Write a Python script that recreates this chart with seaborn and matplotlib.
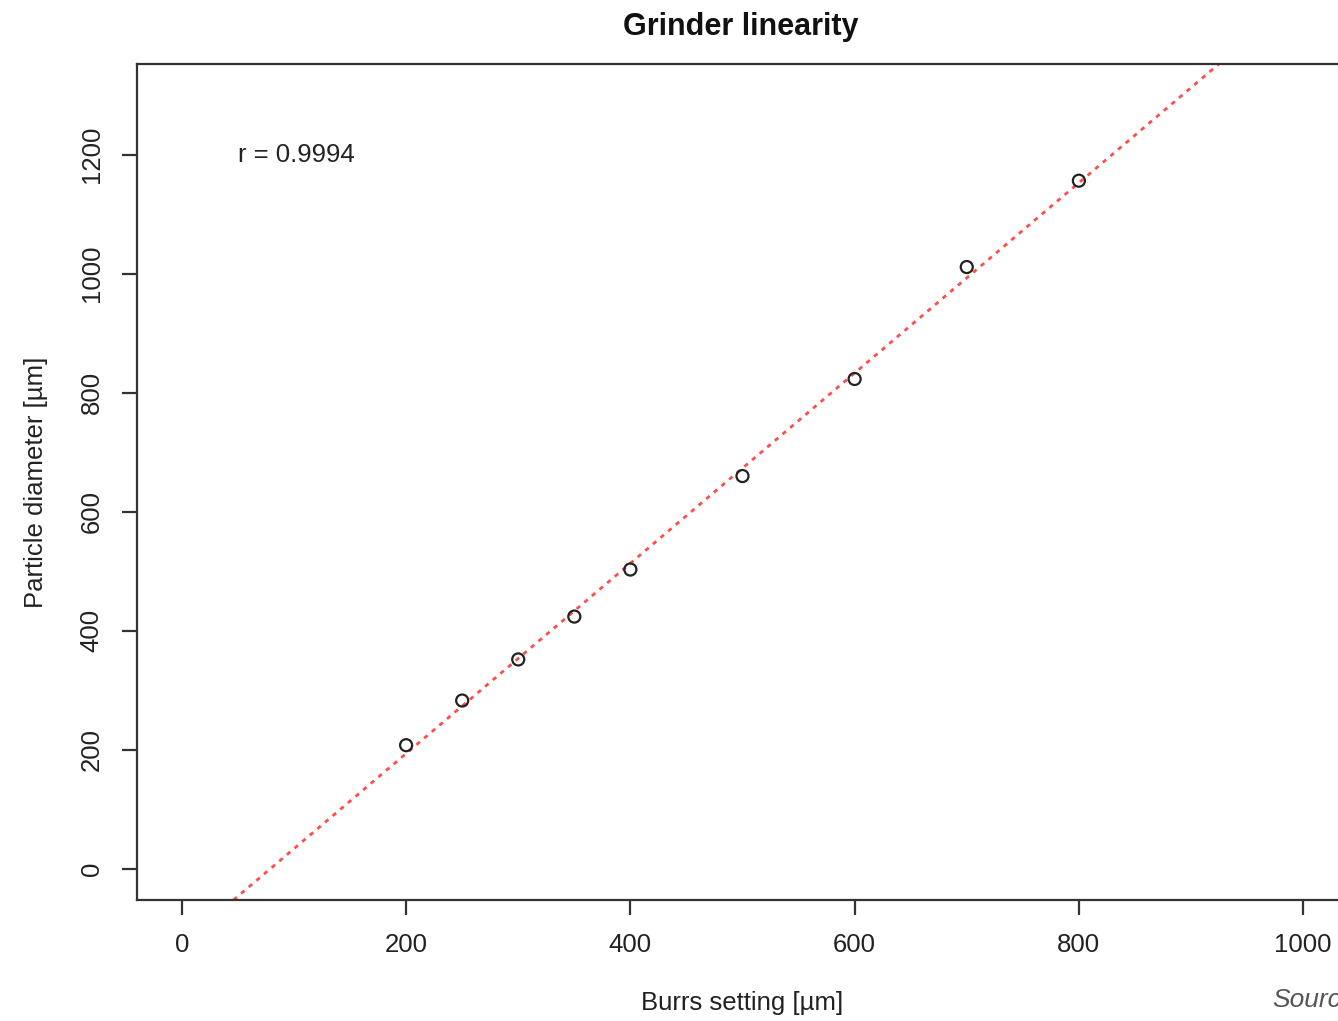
import numpy as np
import pandas as pd
import seaborn as sns
import matplotlib
matplotlib.use("Agg")
import matplotlib.pyplot as plt

# Data
burrs_setting = [200, 250, 300, 350, 400, 500, 600, 700, 800]
particle_diameter = [208, 283, 352, 424, 503, 660, 823, 1011, 1156]
x_ticks = [0, 200, 400, 600, 800, 1000]
y_ticks = [0, 200, 400, 600, 800, 1000, 1200]
r_label = "r = 0.9994"

df = pd.DataFrame({"x": burrs_setting, "y": particle_diameter})

sns.set_style("ticks")
plt.rcParams["font.family"] = ["Liberation Sans", "DejaVu Sans"]

fig = plt.figure(figsize=(13.38, 10.21), dpi=100)
ax = fig.add_axes([137 / 1338, 1 - 900 / 1021, (1348 - 137) / 1338, (900 - 64) / 1021])

# regression line (dotted red)
slope, intercept = np.polyfit(df["x"], df["y"], 1)
ax.axline((0, intercept), slope=slope, color="#ff4d4d", linestyle=(0, (1.6, 2.0)),
          linewidth=2.0, zorder=1)

sns.scatterplot(data=df, x="x", y="y", ax=ax, marker="o", s=75,
                facecolor="none", edgecolor="#222222", linewidth=1.6, zorder=3)

ax.set_xlim(-40, 1040)
ax.set_ylim(-52, 1352)
ax.set_xticks(x_ticks)
ax.set_yticks(y_ticks)
ax.set_yticklabels([str(v) for v in y_ticks], rotation=90, va="center")

for s in ax.spines.values():
    s.set_visible(True)
    s.set_color("#333333")
    s.set_linewidth(1.6)

ax.tick_params(axis="both", direction="out", length=11, width=1.6, color="#333333",
               labelsize=18.5, labelcolor="#222222", pad=13)

ax.set_xlabel("Burrs setting [µm]", fontsize=18.5, color="#222222", labelpad=24)
ax.set_ylabel("Particle diameter [µm]", fontsize=18.5, color="#222222", labelpad=23)
ax.set_title("Grinder linearity", fontsize=22, fontweight="bold", color="#111111", pad=21,
             x=(741 - 137) / (1348 - 137))

ax.text(50, 1200, r_label, fontsize=18.5, color="#222222", va="center", ha="left")

fig.text(1272 / 1338, 1 - 1000 / 1021, "Source:", fontsize=19, style="italic",
         color="#555555", ha="left", va="center")

fig.savefig("out.png", dpi=100)
